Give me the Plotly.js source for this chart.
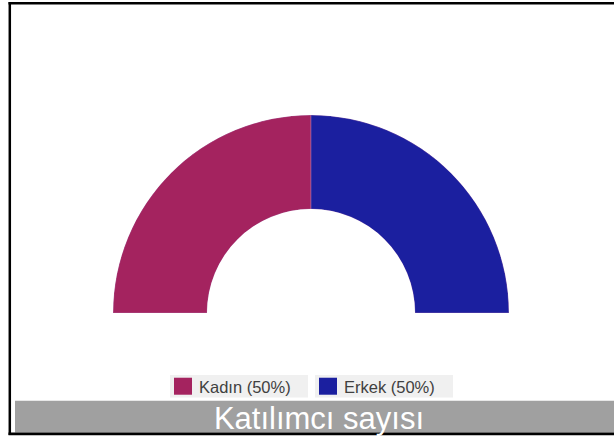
<!DOCTYPE html>
<html>
<head>
<meta charset="utf-8">
<script src="https://cdn.plot.ly/plotly-3.0.1.min.js"></script>
<style>html,body{margin:0;padding:0;background:#fff;}#chart{width:614px;height:437px;}</style>
</head>
<body>
<div id="chart"></div>
<script>
// Data
const categories = ["Kadın", "Erkek"];
const values = [50, 50];
const colors = ["#a4235f", "#1b1f9f"];
const chartTitle = "Katılımcı sayısı";

const total = values.reduce((a, b) => a + b, 0);
const traces = [];
// Half-donut: angles go from 180° (left) clockwise to 0° (right)
let start = 180;
categories.forEach((c, i) => {
  const w = values[i] / total * 180;
  const pct = Math.round(values[i] / total * 100);
  traces.push({
    type: "barpolar",
    name: c + " (" + pct + "%)",
    r: [1],
    theta: [start - w / 2],
    width: [w],
    base: [0],
    marker: {color: colors[i], line: {width: 0.5, color: "#b07ab0"}},
    hoverinfo: "name"
  });
  start -= w;
});

const W = 614, H = 437;
const px = v => v / W;
const py = v => (H - v) / H;
const layout = {
  width: W, height: H,
  margin: {l: 0, r: 0, t: 0, b: 0},
  paper_bgcolor: "#ffffff",
  showlegend: true,
  polar: {
    domain: {x: [px(113), px(509)], y: [py(313), py(115)]},
    sector: [0, 180],
    hole: 0.525,
    bgcolor: "rgba(0,0,0,0)",
    radialaxis: {visible: false, range: [0, 1], showgrid: false},
    angularaxis: {visible: false, showgrid: false, direction: "counterclockwise", rotation: 0}
  },
  legend: {
    orientation: "h",
    x: px(159), xanchor: "left",
    y: py(386.5), yanchor: "middle",
    bgcolor: "rgba(0,0,0,0)",
    font: {family: "Liberation Sans, Arial, sans-serif", size: 16.5, color: "#404040"},
    itemwidth: 30,
    entrywidth: 100,
    entrywidthmode: "pixels",
    traceorder: "normal"
  },
  title: {
    text: chartTitle,
    x: px(319), xanchor: "center",
    y: py(418), yanchor: "middle",
    font: {family: "Liberation Sans, Arial, sans-serif", size: 31, color: "#ffffff"}
  },
  shapes: [
    // legend item boxes
    {type: "rect", xref: "paper", yref: "paper", x0: px(170), x1: px(308), y0: py(397.5), y1: py(375),
     fillcolor: "#f0f0f0", line: {width: 0}, layer: "below"},
    {type: "rect", xref: "paper", yref: "paper", x0: px(315), x1: px(453), y0: py(397.5), y1: py(375),
     fillcolor: "#f0f0f0", line: {width: 0}, layer: "below"},
    // title bar
    {type: "rect", xref: "paper", yref: "paper", x0: px(15), x1: 1, y0: py(432.5), y1: py(400.7),
     fillcolor: "#a0a0a0", line: {width: 0}, layer: "below"},
    // frame
    {type: "line", xref: "paper", yref: "paper", x0: px(8.5), x1: 1.01, y0: py(3.2), y1: py(3.2), line: {color: "#000", width: 2.5}},
    {type: "line", xref: "paper", yref: "paper", x0: px(9.8), x1: px(9.8), y0: py(2), y1: py(435), line: {color: "#000", width: 2.5}},
    {type: "line", xref: "paper", yref: "paper", x0: px(8.5), x1: 1.01, y0: py(433.8), y1: py(433.8), line: {color: "#000", width: 2.8}}
  ]
};

Plotly.newPlot("chart", traces, layout, {displayModeBar: false, staticPlot: true}).then(gd => {
  gd.querySelectorAll(".legendpoints path").forEach(p => {
    p.setAttribute("d", "M13,8.5H-5V-8.5H13Z");
    p.style.strokeWidth = "0";
  });
});
</script>
</body>
</html>
